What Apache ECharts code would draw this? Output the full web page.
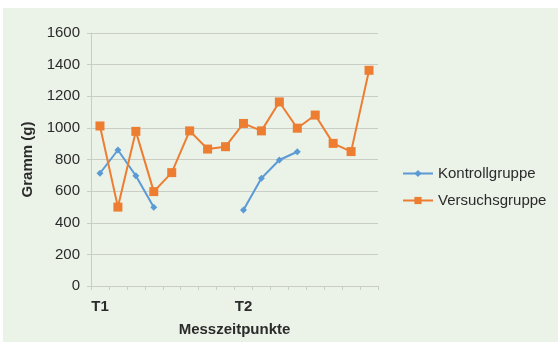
<!DOCTYPE html>
<html>
<head>
<meta charset="utf-8">
<script src="https://cdn.jsdelivr.net/npm/echarts@6/dist/echarts.min.js"></script>
<style>
  html, body { margin: 0; padding: 0; background: #ffffff; }
  #frame { position: absolute; left: 3px; top: 8px; width: 555px; height: 334px; background: #ebf2e7; }
  #chart { position: absolute; left: 0; top: 0; width: 558px; height: 342px; }
</style>
</head>
<body>
<div id="frame"></div>
<div id="chart"></div>
<script>
// Measurement points: 16 slots, T1 at the first, T2 at the ninth
const categories = ['T1', '', '', '', '', '', '', '', 'T2', '', '', '', '', '', '', ''];
const kontrollgruppe = [713, 860, 697, 498, null, null, null, null, 481, 681, 797, 849, null, null, null, null];
const versuchsgruppe = [1012, 499, 978, 597, 717, 981, 866, 881, 1028, 981, 1164, 998, 1081, 902, 850, 1364];
const yTicks = { min: 0, max: 1600, interval: 200 };

const font = 'Liberation Sans, Arial, sans-serif';
const textColor = '#2b2b2b';
const gridColor = '#c9cdc6';

const chart = echarts.init(document.getElementById('chart'), null, { renderer: 'canvas' });
chart.setOption({
  backgroundColor: 'transparent',
  animation: false,
  grid: { left: 91, right: 180, top: 33, bottom: 56, containLabel: false },
  legend: {
    orient: 'vertical',
    left: 397,
    top: 161,
    itemWidth: 30,
    itemHeight: 9,
    itemGap: 12,
    textStyle: { fontFamily: font, fontSize: 15, color: textColor },
    data: ['Kontrollgruppe', 'Versuchsgruppe']
  },
  xAxis: {
    type: 'category',
    data: categories,
    boundaryGap: true,
    name: 'Messzeitpunkte',
    nameLocation: 'middle',
    nameGap: 36,
    nameTextStyle: { fontFamily: font, fontSize: 15, fontWeight: 'bold', color: textColor },
    axisLine: { lineStyle: { color: gridColor, width: 1 } },
    axisTick: { show: true, length: 4, alignWithLabel: false, interval: 0, lineStyle: { color: gridColor } },
    axisLabel: { interval: 0, margin: 13, fontFamily: font, fontSize: 15, fontWeight: 'bold', color: textColor },
    splitLine: { show: false }
  },
  yAxis: {
    type: 'value',
    min: yTicks.min,
    max: yTicks.max,
    interval: yTicks.interval,
    name: 'Gramm (g)',
    nameLocation: 'middle',
    nameGap: 53,
    nameRotate: 90,
    nameTextStyle: { fontFamily: font, fontSize: 15, fontWeight: 'bold', color: textColor },
    axisLine: { show: true, lineStyle: { color: gridColor, width: 1 } },
    axisTick: { show: true, length: 4, lineStyle: { color: gridColor } },
    axisLabel: { margin: 11, fontFamily: font, fontSize: 15, color: textColor, formatter: (v) => String(v) },
    splitLine: { lineStyle: { color: gridColor, width: 1 } }
  },
  series: [
    {
      name: 'Kontrollgruppe',
      type: 'line',
      data: kontrollgruppe,
      connectNulls: false,
      symbol: 'diamond',
      symbolSize: 7,
      color: '#5b9bd5',
      lineStyle: { width: 2, color: '#5b9bd5' },
      itemStyle: { color: '#5b9bd5' }
    },
    {
      name: 'Versuchsgruppe',
      type: 'line',
      data: versuchsgruppe,
      symbol: 'rect',
      symbolSize: 9,
      color: '#ed7d31',
      lineStyle: { width: 2, color: '#ed7d31' },
      itemStyle: { color: '#ed7d31' }
    }
  ]
});
</script>
</body>
</html>
